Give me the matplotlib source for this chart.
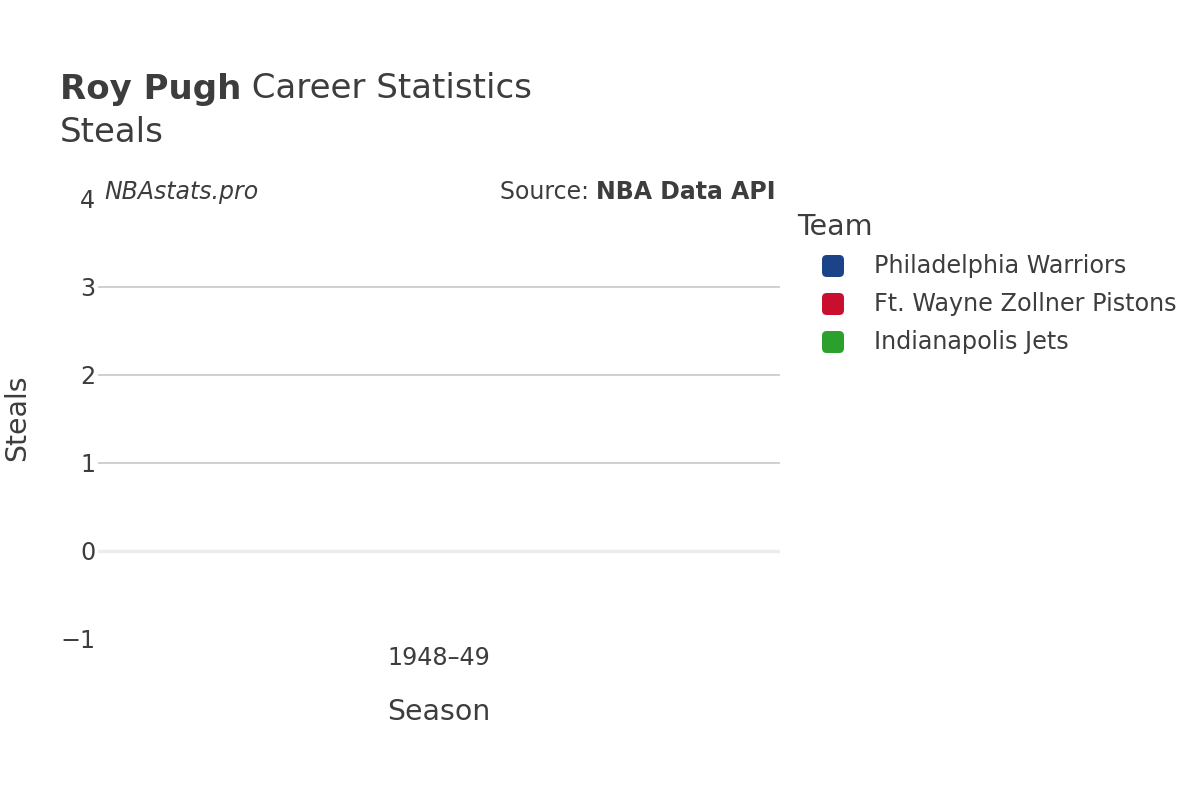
import matplotlib
matplotlib.use("Agg")
import matplotlib.pyplot as plt
from matplotlib.patches import FancyBboxPatch

plt.rcParams['font.family'] = ['DejaVu Sans']

# data
seasons = ['1948–49']
teams = ['Philadelphia Warriors', 'Ft. Wayne Zollner Pistons', 'Indianapolis Jets']
team_colors = ['#1b4488', '#c8102e', '#2ca02c']
steals = {
    'Philadelphia Warriors': [0],
    'Ft. Wayne Zollner Pistons': [0],
    'Indianapolis Jets': [0],
}
y_ticks = [-1, 0, 1, 2, 3, 4]

W, H = 1200, 800
TXT = '#3d3d3d'


def fx(px):
    return px / W


def fy(py):
    return 1 - py / H


fig = plt.figure(figsize=(12, 8), dpi=100)
ax = fig.add_axes([fx(98), fy(639), fx(780) - fx(98), fy(199) - fy(639)])

n = len(teams)
width = 0.8 / n
for i, t in enumerate(teams):
    xs = [j - 0.4 + width * (i + 0.5) for j in range(len(seasons))]
    ax.bar(xs, steals[t], width=width, color=team_colors[i])

ax.set_xlim(-0.5, len(seasons) - 0.5)
ax.set_ylim(-1, 4)
ax.set_xticks(range(len(seasons)))
ax.set_xticklabels(seasons)
ax.set_yticks(y_ticks)
ax.set_yticklabels(['−1' if v < 0 else str(v) for v in y_ticks])
for v in [1, 2, 3]:
    ax.axhline(v, color='#c4c4c4', lw=1.1, zorder=0)
ax.axhline(0, color='#ececec', lw=2.4, zorder=0.5)
for s in ax.spines.values():
    s.set_visible(False)
ax.tick_params(length=0, labelsize=17.2, colors=TXT)
ax.tick_params(axis='x', pad=5)
ax.tick_params(axis='y', pad=2)

fig.text(fx(439), fy(712), 'Season', fontsize=20.4, color=TXT, ha='center', va='center')
fig.text(fx(17), fy(418), 'Steals', fontsize=20.4, color=TXT, ha='center', va='center', rotation=90)

# title
renderer = fig.canvas.get_renderer()
t1 = fig.text(fx(60), fy(89), 'Roy Pugh', fontsize=24.5, fontweight='bold', color=TXT, va='center')
bb = t1.get_window_extent(renderer)
fig.text(bb.x1 / W, fy(89), ' Career Statistics', fontsize=24.5, color=TXT, va='center')
fig.text(fx(60), fy(133), 'Steals', fontsize=24.5, color=TXT, va='center')

# watermark and source
fig.text(fx(104), fy(192), 'NBAstats.pro', fontsize=17, style='italic', color=TXT, va='center')
s2 = fig.text(fx(776), fy(192), 'NBA Data API', fontsize=17, fontweight='bold', color=TXT, va='center', ha='right')
bb2 = s2.get_window_extent(renderer)
fig.text(bb2.x0 / W, fy(192), 'Source: ', fontsize=17, color=TXT, va='center', ha='right')

# legend
fig.text(fx(797), fy(227), 'Team', fontsize=20.5, color=TXT, va='center')
for i, t in enumerate(teams):
    cy = 266 + 38 * i
    sw = FancyBboxPatch((fx(822), fy(cy + 11)), fx(22), 22 / H,
                        boxstyle='round,pad=0,rounding_size=0.004',
                        transform=fig.transFigure, facecolor=team_colors[i],
                        edgecolor='none', mutation_aspect=W / H)
    fig.patches.append(sw)
    fig.text(fx(874), fy(cy), t, fontsize=17.2, color=TXT, va='center')

fig.savefig('out.png', dpi=100)
